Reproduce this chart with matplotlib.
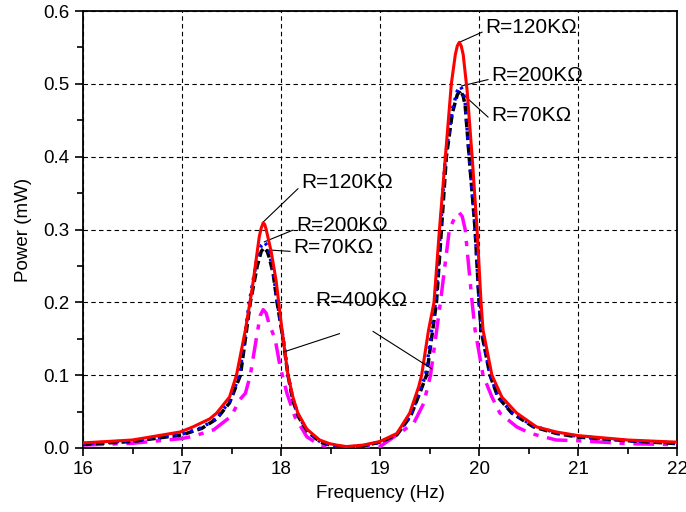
import numpy as np
import matplotlib.pyplot as plt
from matplotlib.ticker import MultipleLocator

plt.rcParams['font.family'] = ['Liberation Sans', 'DejaVu Sans']

# R = 120 KOhm (red, solid)
f_120 = [16.0, 16.5, 16.98, 17.11, 17.28, 17.35, 17.48, 17.55, 17.64, 17.71, 17.76, 17.78,
         17.80, 17.82, 17.835, 17.85, 17.90, 17.95, 18.01, 18.07, 18.12, 18.17, 18.26, 18.39,
         18.49, 18.56, 18.66, 18.83, 19.0, 19.17, 19.30, 19.39, 19.42, 19.49, 19.545, 19.60,
         19.66, 19.72, 19.76, 19.78, 19.80, 19.82, 19.84, 19.88, 19.93, 19.98, 20.02, 20.04,
         20.13, 20.23, 20.38, 20.58, 20.78, 21.0, 21.5, 22.0]
p_120 = [0.007, 0.011, 0.022, 0.029, 0.040, 0.048, 0.070, 0.100, 0.162, 0.220, 0.270, 0.290,
         0.302, 0.309, 0.307, 0.300, 0.270, 0.230, 0.162, 0.100, 0.070, 0.048, 0.026, 0.011,
         0.006, 0.004, 0.002, 0.004, 0.009, 0.020, 0.048, 0.084, 0.100, 0.162, 0.200, 0.300,
         0.400, 0.500, 0.540, 0.552, 0.557, 0.552, 0.540, 0.490, 0.400, 0.300, 0.200, 0.162,
         0.100, 0.070, 0.048, 0.029, 0.022, 0.017, 0.011, 0.008]

# R = 70 KOhm (black, dashed)
f_70 = [16.0, 16.5, 17.0, 17.2, 17.35, 17.48, 17.59, 17.69, 17.76, 17.80, 17.83, 17.86,
        17.88, 17.92, 17.96, 18.02, 18.07, 18.12, 18.18, 18.27, 18.40, 18.50, 18.66, 18.83,
        19.0, 19.17, 19.31, 19.40, 19.47, 19.57, 19.62, 19.67, 19.73, 19.78, 19.81, 19.84,
        19.86, 19.90, 19.96, 20.00, 20.02, 20.11, 20.19, 20.33, 20.55, 20.78, 21.0, 21.5, 22.0]
p_70 = [0.005, 0.009, 0.018, 0.027, 0.040, 0.062, 0.100, 0.200, 0.250, 0.270, 0.275, 0.270,
        0.262, 0.240, 0.200, 0.150, 0.100, 0.065, 0.042, 0.022, 0.008, 0.004, 0.001, 0.003,
        0.008, 0.018, 0.044, 0.075, 0.100, 0.200, 0.300, 0.400, 0.460, 0.485, 0.491, 0.483,
        0.470, 0.400, 0.300, 0.200, 0.162, 0.100, 0.070, 0.048, 0.029, 0.020, 0.015, 0.010,
        0.006]

# R = 200 KOhm (blue, dotted)
f_200 = [16.0, 16.5, 17.0, 17.2, 17.35, 17.48, 17.58, 17.68, 17.75, 17.80, 17.83, 17.86,
         17.88, 17.92, 17.96, 18.02, 18.07, 18.12, 18.18, 18.27, 18.40, 18.50, 18.66, 18.83,
         19.0, 19.17, 19.31, 19.40, 19.46, 19.56, 19.61, 19.66, 19.73, 19.78, 19.81, 19.84,
         19.86, 19.90, 19.96, 20.00, 20.02, 20.11, 20.19, 20.33, 20.55, 20.78, 21.0, 21.5, 22.0]
p_200 = [0.006, 0.010, 0.019, 0.028, 0.041, 0.064, 0.100, 0.200, 0.255, 0.278, 0.283, 0.278,
         0.268, 0.243, 0.202, 0.152, 0.101, 0.066, 0.043, 0.023, 0.008, 0.004, 0.001, 0.003,
         0.008, 0.019, 0.045, 0.077, 0.100, 0.200, 0.300, 0.400, 0.465, 0.490, 0.497, 0.490,
         0.474, 0.402, 0.302, 0.202, 0.164, 0.101, 0.071, 0.049, 0.030, 0.021, 0.016, 0.010,
         0.007]

# R = 400 KOhm (magenta, dash-dot)
f_400 = [16.0, 16.5, 17.0, 17.11, 17.32, 17.5, 17.58, 17.64, 17.69, 17.75, 17.79, 17.82,
         17.85, 17.88, 17.94, 17.99, 18.06, 18.14, 18.26, 18.39, 18.49, 18.7, 19.0, 19.17,
         19.34, 19.44, 19.51, 19.56, 19.61, 19.70, 19.76, 19.80, 19.83, 19.86, 19.93, 19.96,
         20.04, 20.13, 20.21, 20.38, 20.52, 20.65, 20.78, 21.0, 21.5, 22.0]
p_400 = [0.004, 0.0065, 0.013, 0.016, 0.025, 0.044, 0.066, 0.075, 0.100, 0.150, 0.182, 0.190,
         0.185, 0.170, 0.150, 0.112, 0.075, 0.043, 0.0155, 0.004, 0.002, 0.0005, 0.002, 0.018,
         0.034, 0.061, 0.100, 0.150, 0.200, 0.300, 0.318, 0.323, 0.318, 0.300, 0.200, 0.162,
         0.100, 0.070, 0.048, 0.029, 0.020, 0.0155, 0.011, 0.010, 0.006, 0.0045]

# labels: (text, text position, arrow tip)
labels = [
    ("R=120KΩ", (20.06, 0.578), (19.80, 0.557)),
    ("R=200KΩ", (20.12, 0.512), (19.82, 0.497)),
    ("R=70KΩ", (20.12, 0.456), (19.81, 0.489)),
    ("R=120KΩ", (18.20, 0.365), (17.81, 0.309)),
    ("R=200KΩ", (18.15, 0.306), (17.83, 0.283)),
    ("R=70KΩ", (18.12, 0.275), (17.86, 0.272)),
]

fig = plt.figure(figsize=(6.86, 5.12), dpi=100)
ax = fig.add_axes([0.121, 0.125, 0.866, 0.8535])

ax.plot(f_400, p_400, color='#ff00ff', lw=2.5, dashes=(6, 2.5, 1.5, 2.5), zorder=3)
ax.plot(f_70, p_70, color='black', lw=2.5, dashes=(2.5, 1.2), zorder=4)
ax.plot(f_200, p_200, color='#0000ff', lw=2.5, dashes=(0.8, 1.6), zorder=5)
ax.plot(f_120, p_120, color='#ff0000', lw=2.2, zorder=6)

for txt, pos, tip in labels:
    ax.annotate(txt, xy=tip, xytext=pos, fontsize=15, va='center', ha='left',
                arrowprops=dict(arrowstyle='-', lw=0.8, color='black', shrinkA=0, shrinkB=0,
                                relpos=(0, 0.3)))

# R=400K label with two leader lines
ax.text(18.35, 0.203, "R=400KΩ", fontsize=15, va='center', ha='left')
ax.plot([18.59, 18.03], [0.157, 0.132], color='black', lw=0.8, zorder=7)
ax.plot([18.93, 19.52], [0.160, 0.109], color='black', lw=0.8, zorder=7)

ax.set_xlim(16, 22)
ax.set_ylim(0, 0.6)
ax.xaxis.set_major_locator(MultipleLocator(1))
ax.xaxis.set_minor_locator(MultipleLocator(0.5))
ax.yaxis.set_major_locator(MultipleLocator(0.1))
ax.yaxis.set_minor_locator(MultipleLocator(0.05))
ax.yaxis.set_major_formatter(plt.FormatStrFormatter('%.1f'))

ax.grid(True, which='major', color='black', linestyle=(0, (4, 3)), lw=0.8)
ax.tick_params(which='both', direction='out', width=1.2, labelsize=13.5)
ax.tick_params(which='major', length=6)
ax.tick_params(which='minor', length=4)
for s in ax.spines.values():
    s.set_linewidth(1.3)

ax.set_xlabel("Frequency (Hz)", fontsize=13.5, labelpad=5)
ax.set_ylabel("Power (mW)", fontsize=13.5, labelpad=8)

plt.savefig("out.png", dpi=100)
